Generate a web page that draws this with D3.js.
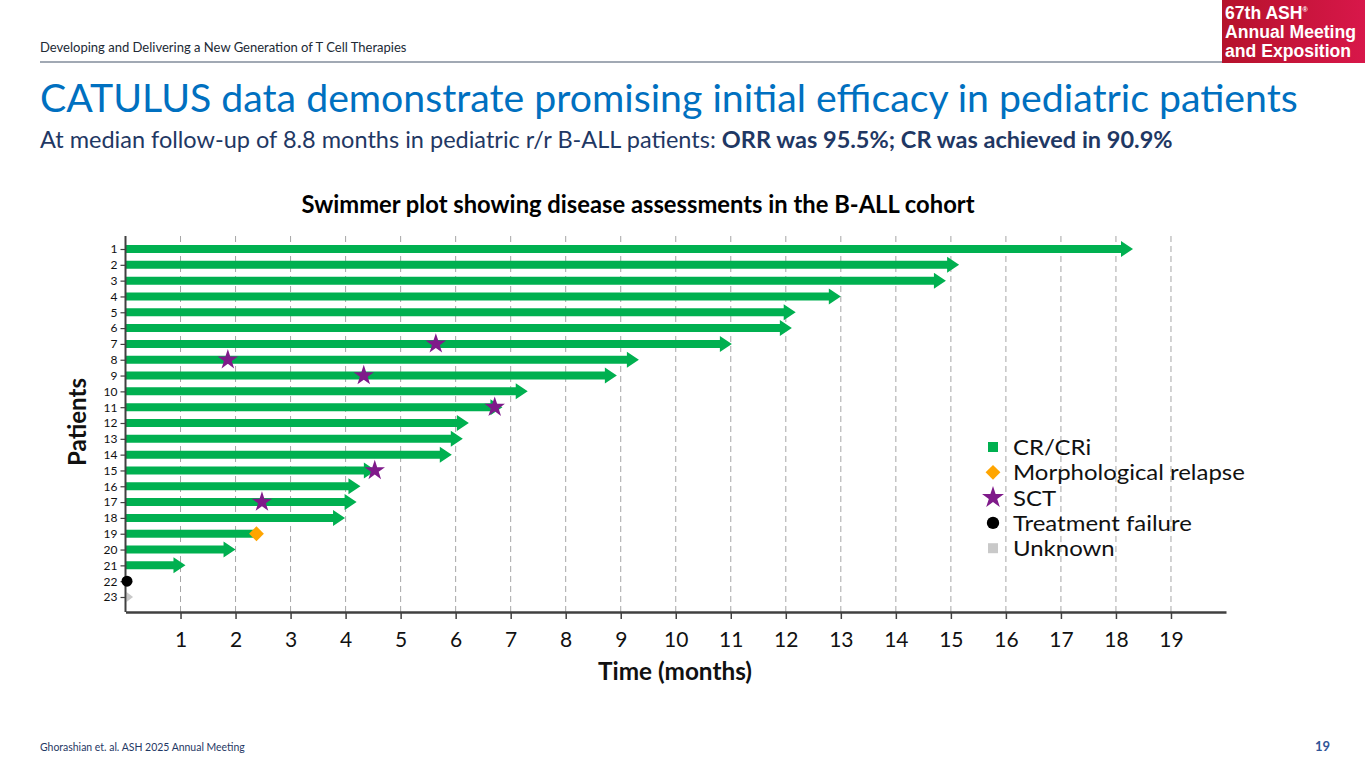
<!DOCTYPE html>
<html>
<head>
<meta charset="utf-8">
<script src="https://cdn.jsdelivr.net/npm/d3@7"></script>
<style>
  body { margin: 0; background: #fff; }
  svg { display: block; font-family: Lato, "Open Sans", sans-serif; }
</style>
</head>
<body>
<svg id="chart" width="1365" height="768"></svg>
<script>
// patients, top to bottom
const patients = ["1","2","3","4","5","6","7","8","9","10","11","12","13","14","15","16","17","18","19","20","21","22","23"];
// time on study (months) where each swimmer lane ends
const durations = [18.31, 15.15, 14.91, 13.0, 12.18, 12.11, 11.02, 9.33, 8.93, 7.31, 6.85, 6.24, 6.13, 5.93, 4.55, 4.27, 4.2, 3.99, 2.38, 2.0, 1.09, 0, 0.12];
// response category of each lane
const status = ["CR","CR","CR","CR","CR","CR","CR","CR","CR","CR","CR","CR","CR","CR","CR","CR","CR","CR","CR","CR","CR","failure","unknown"];
// events along the lanes
const sctEvents = [
  { patient: "7", time: 5.64 },
  { patient: "8", time: 1.86 },
  { patient: "9", time: 4.33 },
  { patient: "11", time: 6.71 },
  { patient: "15", time: 4.53 },
  { patient: "17", time: 2.48 }
];
const relapseEvents = [{ patient: "19", time: 2.38 }];
const failureEvents = [{ patient: "22", time: 0 }];
const xTicks = [1,2,3,4,5,6,7,8,9,10,11,12,13,14,15,16,17,18,19];
const legendItems = [
  { label: "CR/CRi", kind: "square", color: "#00b050" },
  { label: "Morphological relapse", kind: "diamond", color: "#ffa500" },
  { label: "SCT", kind: "star", color: "#7f1a8a" },
  { label: "Treatment failure", kind: "circle", color: "#000000" },
  { label: "Unknown", kind: "square", color: "#c9c9c9" }
];

const GREEN = "#00b050";
const svg = d3.select("#chart");

// scale a text's font size so it spans the given width
function fitWidth(sel, width) {
  const node = sel.node();
  const size = parseFloat(sel.attr("font-size"));
  const w = node.getComputedTextLength();
  if (w > 0) sel.attr("font-size", size * width / w);
  return sel;
}

// ---- slide header ----
svg.append("text")
  .attr("x", 40).attr("y", 52)
  .attr("font-size", 12.5).attr("fill", "#222a35")
  .text("Developing and Delivering a New Generation of T Cell Therapies")
  .call(s => fitWidth(s, 367));

svg.append("line")
  .attr("x1", 40).attr("x2", 1365).attr("y1", 62).attr("y2", 62)
  .attr("stroke", "#44546a").attr("stroke-width", 1.2);

const grad = svg.append("defs").append("linearGradient")
  .attr("id", "logoGrad").attr("x1", "0").attr("x2", "1").attr("y1", "0").attr("y2", "0");
grad.append("stop").attr("offset", "0%").attr("stop-color", "#b5122b");
grad.append("stop").attr("offset", "100%").attr("stop-color", "#d8174a");

svg.append("rect")
  .attr("x", 1222).attr("y", 0).attr("width", 143).attr("height", 63)
  .attr("fill", "url(#logoGrad)");

const logo = svg.append("text")
  .attr("font-family", "Liberation Sans, Arial, sans-serif")
  .attr("font-weight", "bold").attr("font-size", 17.6).attr("fill", "#fff");
logo.append("tspan").attr("x", 1225).attr("y", 19).text("67th ASH");
logo.append("tspan").attr("font-size", 7).attr("dy", -7).text("®");
logo.append("tspan").attr("x", 1225).attr("y", 38).text("Annual Meeting");
logo.append("tspan").attr("x", 1225).attr("y", 57).text("and Exposition");

svg.append("text")
  .attr("x", 40).attr("y", 112)
  .attr("font-size", 38).attr("fill", "#0070c0")
  .text("CATULUS data demonstrate promising initial efficacy in pediatric patients")
  .call(s => fitWidth(s, 1258));

const sub = svg.append("text")
  .attr("x", 40).attr("y", 148)
  .attr("font-size", 21).attr("fill", "#1f3864");
sub.append("tspan").text("At median follow-up of 8.8 months in pediatric r/r B-ALL patients: ");
sub.append("tspan").attr("font-weight", "bold").text("ORR was 95.5%; CR was achieved in 90.9%");
fitWidth(sub, 1133);

svg.append("text")
  .attr("x", 638).attr("y", 213)
  .attr("text-anchor", "middle")
  .attr("font-size", 21).attr("font-weight", "bold").attr("fill", "#000")
  .text("Swimmer plot showing disease assessments in the B-ALL cohort")
  .call(s => fitWidth(s, 673));

// ---- plot ----
const x = d3.scaleLinear().domain([0, 20]).range([125.5, 1226]);
const y = d3.scalePoint().domain(patients).range([249, 597]);
const plotTop = 236, plotBottom = 612;

const g = svg.append("g");

// dashed monthly gridlines
g.selectAll("line.grid")
  .data(xTicks)
  .join("line")
  .attr("class", "grid")
  .attr("x1", d => x(d)).attr("x2", d => x(d))
  .attr("y1", plotTop).attr("y2", plotBottom)
  .attr("stroke", "#a6a6a6").attr("stroke-width", 1)
  .attr("stroke-dasharray", "6,4");

// swimmer lanes
const lanes = patients.map((p, i) => ({ patient: p, end: durations[i], status: status[i] }));
const barH = 8, headH = 16, headL = 12;

lanes.forEach(d => {
  const yc = y(d.patient);
  const x0 = x(0), x1 = x(d.end);
  if (d.status === "CR") {
    const hasRelapse = relapseEvents.some(e => e.patient === d.patient);
    if (hasRelapse) {
      g.append("rect")
        .attr("x", x0).attr("y", yc - barH / 2)
        .attr("width", x1 - x0).attr("height", barH)
        .attr("fill", GREEN);
    } else {
      const xs = x1 - headL;
      g.append("path")
        .attr("d", `M${x0},${yc - barH / 2}H${xs}V${yc - headH / 2}L${x1},${yc}L${xs},${yc + headH / 2}V${yc + barH / 2}H${x0}Z`)
        .attr("fill", GREEN);
    }
  } else if (d.status === "unknown") {
    const xs = x(0) + 1;
    g.append("path")
      .attr("d", `M${xs},${yc - 5}L${x1 + 1},${yc}L${xs},${yc + 5}Z`)
      .attr("fill", "#c9c9c9");
  }
});

// x axis
const xAxis = g.append("g")
  .attr("transform", `translate(0,${plotBottom})`)
  .call(d3.axisBottom(x).tickValues(xTicks).tickSize(7).tickPadding(13).tickSizeOuter(0));
xAxis.select(".domain").attr("stroke", "#404040").attr("stroke-width", 2.5);
xAxis.selectAll(".tick line").attr("stroke", "#404040").attr("stroke-width", 1.5);
xAxis.selectAll("text")
  .attr("font-family", "Lato, sans-serif")
  .attr("font-size", 21).attr("fill", "#111");

// y axis
const yAxis = g.append("g")
  .attr("transform", `translate(${x(0)},0)`)
  .call(d3.axisLeft(y).tickSize(5).tickPadding(3).tickSizeOuter(0));
yAxis.select(".domain").attr("d", `M0,${plotTop}V${plotBottom}`)
  .attr("stroke", "#404040").attr("stroke-width", 2);
yAxis.selectAll(".tick line").attr("stroke", "#404040").attr("stroke-width", 1.2);
yAxis.selectAll("text")
  .attr("font-family", "Lato, sans-serif")
  .attr("font-size", 12).attr("fill", "#111");

// event markers
g.selectAll("path.relapse")
  .data(relapseEvents)
  .join("path")
  .attr("class", "relapse")
  .attr("transform", d => `translate(${x(d.time)},${y(d.patient)}) rotate(45)`)
  .attr("d", d3.symbol(d3.symbolSquare, 110))
  .attr("fill", "#ffa500");

g.selectAll("circle.failure")
  .data(failureEvents)
  .join("circle")
  .attr("class", "failure")
  .attr("cx", d => x(d.time) + 1.5).attr("cy", d => y(d.patient))
  .attr("r", 5.5).attr("fill", "#000");

g.selectAll("path.sct")
  .data(sctEvents)
  .join("path")
  .attr("class", "sct")
  .attr("transform", d => `translate(${x(d.time)},${y(d.patient)})`)
  .attr("d", d3.symbol(d3.symbolStar, 130))
  .attr("fill", "#7f1a8a");

// axis titles
svg.append("text")
  .attr("x", 675).attr("y", 680)
  .attr("text-anchor", "middle")
  .attr("font-size", 22).attr("font-weight", "bold").attr("fill", "#111")
  .text("Time (months)")
  .call(s => fitWidth(s, 154));

svg.append("text")
  .attr("transform", `translate(86,${(plotTop + plotBottom) / 2 - 2}) rotate(-90)`)
  .attr("text-anchor", "middle")
  .attr("font-size", 22).attr("font-weight", "bold").attr("fill", "#111")
  .text("Patients")
  .call(s => fitWidth(s, 88));

// legend
const legend = svg.append("g").attr("transform", "translate(993,447)");
const symbolFor = {
  square: d3.symbol(d3.symbolSquare, 100),
  diamond: d3.symbol(d3.symbolSquare, 110),
  star: d3.symbol(d3.symbolStar, 150),
  circle: d3.symbol(d3.symbolCircle, 120)
};
const li = legend.selectAll("g.item")
  .data(legendItems)
  .join("g")
  .attr("class", "item")
  .attr("transform", (d, i) => `translate(0,${i * 25.3})`);
li.append("path")
  .attr("d", d => symbolFor[d.kind]())
  .attr("transform", d => d.kind === "diamond" ? "rotate(45)" : null)
  .attr("fill", d => d.color);
const labels = li.append("g").attr("class", "label");
labels.append("text")
  .attr("x", 0).attr("y", 8)
  .attr("font-size", 21).attr("fill", "#111")
  .text(d => d.label);
// Calibri-like proportions: keep the height, stretch the width
const refW = labels.filter((d, i) => i === 1).select("text").node().getComputedTextLength();
const sx = 232 / refW;
labels.attr("transform", `translate(20,0) scale(${sx},1)`);

// footer
svg.append("text")
  .attr("x", 40).attr("y", 751)
  .attr("font-size", 10).attr("fill", "#1f3864")
  .text("Ghorashian et. al. ASH 2025 Annual Meeting")
  .call(s => fitWidth(s, 205));

svg.append("text")
  .attr("x", 1330).attr("y", 751)
  .attr("text-anchor", "end")
  .attr("font-size", 13).attr("font-weight", "bold").attr("fill", "#2f5597")
  .text("19");
</script>
</body>
</html>
